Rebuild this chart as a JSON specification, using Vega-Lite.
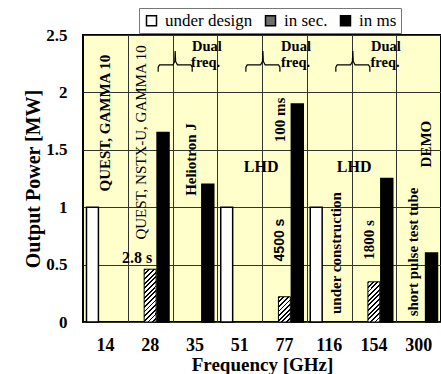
{
  "$schema": "https://vega.github.io/schema/vega-lite/v6.json",
  "width": 358,
  "height": 287,
  "autosize": {"type": "none"},
  "padding": {"left": 83, "top": 35, "right": 0, "bottom": 52},
  "background": "white",
  "config": {
    "view": {"fill": "#FFFFCC", "stroke": "black", "strokeWidth": 2},
    "font": "Liberation Serif",
    "axis": {
      "labelFont": "Liberation Serif", "labelFontWeight": "bold", "labelFontSize": 17, "labelColor": "black",
      "titleFont": "Liberation Serif", "titleFontWeight": "bold", "titleFontSize": 19, "titleColor": "black",
      "gridColor": "#333", "gridOpacity": 1, "gridWidth": 1, "ticks": false, "domain": false
    },
    "legend": {
      "labelFont": "Liberation Serif", "labelFontSize": 17, "labelColor": "black",
      "symbolStrokeColor": "black", "symbolStrokeWidth": 1.5, "symbolType": "square", "symbolSize": 100
    }
  },
  "datasets": {
    "bars": [
      {"freq": "14", "type": "under design", "power": 1.0},
      {"freq": "28", "type": "in sec.", "power": 0.46},
      {"freq": "28", "type": "in ms", "power": 1.65},
      {"freq": "35", "type": "in ms", "power": 1.2},
      {"freq": "51", "type": "under design", "power": 1.0},
      {"freq": "77", "type": "in sec.", "power": 0.22},
      {"freq": "77", "type": "in ms", "power": 1.9},
      {"freq": "116", "type": "under design", "power": 1.0},
      {"freq": "154", "type": "in sec.", "power": 0.35},
      {"freq": "154", "type": "in ms", "power": 1.25},
      {"freq": "300", "type": "in ms", "power": 0.6}
    ],
    "braces": [
      {"brace": 1, "i": 0, "x": 1.68, "y": 2.18}, {"brace": 1, "i": 1, "x": 1.68, "y": 2.22}, {"brace": 1, "i": 2, "x": 1.71, "y": 2.24},
      {"brace": 1, "i": 3, "x": 2.01, "y": 2.24}, {"brace": 1, "i": 4, "x": 2.05, "y": 2.27}, {"brace": 1, "i": 5, "x": 2.06, "y": 2.36},
      {"brace": 1, "i": 6, "x": 2.07, "y": 2.27}, {"brace": 1, "i": 7, "x": 2.11, "y": 2.24}, {"brace": 1, "i": 8, "x": 2.41, "y": 2.24},
      {"brace": 1, "i": 9, "x": 2.44, "y": 2.22}, {"brace": 1, "i": 10, "x": 2.44, "y": 2.18},
      {"brace": 2, "i": 0, "x": 3.64, "y": 2.18}, {"brace": 2, "i": 1, "x": 3.64, "y": 2.22}, {"brace": 2, "i": 2, "x": 3.67, "y": 2.24},
      {"brace": 2, "i": 3, "x": 3.97, "y": 2.24}, {"brace": 2, "i": 4, "x": 4.01, "y": 2.27}, {"brace": 2, "i": 5, "x": 4.02, "y": 2.36},
      {"brace": 2, "i": 6, "x": 4.03, "y": 2.27}, {"brace": 2, "i": 7, "x": 4.07, "y": 2.24}, {"brace": 2, "i": 8, "x": 4.37, "y": 2.24},
      {"brace": 2, "i": 9, "x": 4.40, "y": 2.22}, {"brace": 2, "i": 10, "x": 4.40, "y": 2.18},
      {"brace": 3, "i": 0, "x": 5.65, "y": 2.18}, {"brace": 3, "i": 1, "x": 5.65, "y": 2.22}, {"brace": 3, "i": 2, "x": 5.68, "y": 2.24},
      {"brace": 3, "i": 3, "x": 5.98, "y": 2.24}, {"brace": 3, "i": 4, "x": 6.02, "y": 2.27}, {"brace": 3, "i": 5, "x": 6.03, "y": 2.36},
      {"brace": 3, "i": 6, "x": 6.04, "y": 2.27}, {"brace": 3, "i": 7, "x": 6.08, "y": 2.24}, {"brace": 3, "i": 8, "x": 6.38, "y": 2.24},
      {"brace": 3, "i": 9, "x": 6.41, "y": 2.22}, {"brace": 3, "i": 10, "x": 6.41, "y": 2.18}
    ],
    "vbold": [
      {"label": "QUEST, GAMMA 10", "x": 0.49, "y": 1.733},
      {"label": "Heliotron J", "x": 2.41, "y": 1.415},
      {"label": "100 ms", "x": 4.40, "y": 1.76},
      {"label": "under construction", "x": 5.65, "y": 0.60},
      {"label": "1800 s", "x": 6.39, "y": 0.714},
      {"label": "short pulse test tube", "x": 7.37, "y": 0.61},
      {"label": "DEMO", "x": 7.66, "y": 1.55}
    ],
    "vregular": [
      {"label": "QUEST, NSTX-U, GAMMA 10", "x": 1.30, "y": 1.564}
    ],
    "vsans": [
      {"label": "4500 s", "x": 4.40, "y": 0.714}
    ],
    "hbold": [
      {"label": "LHD", "x": 3.98, "y": 1.35},
      {"label": "LHD", "x": 6.06, "y": 1.35},
      {"label": "2.8 s", "x": 1.21, "y": 0.557}
    ],
    "dual": [
      {"label": "Dual", "x": 2.77, "y": 2.395}, {"label": "freq.", "x": 2.74, "y": 2.256},
      {"label": "Dual", "x": 4.76, "y": 2.395}, {"label": "freq.", "x": 4.75, "y": 2.256},
      {"label": "Dual", "x": 6.77, "y": 2.395}, {"label": "freq.", "x": 6.75, "y": 2.256}
    ]
  },
  "layer": [
    {
      "data": {"name": "bars"},
      "layer": [
        {
          "transform": [{"filter": "datum.type !== 'in sec.'"}],
          "mark": {"type": "bar", "stroke": "black", "strokeWidth": 1.5},
          "encoding": {
            "x": {"field": "freq", "type": "nominal", "title": "Frequency [GHz]",
              "scale": {"domain": ["14", "28", "35", "51", "77", "116", "154", "300"], "paddingInner": 0, "paddingOuter": 0},
              "axis": {"orient": "bottom", "grid": false, "labelAngle": 0, "labelPadding": 14, "titlePadding": 1, "labelFontSize": 18}},
            "xOffset": {"field": "type", "type": "nominal",
              "scale": {"domain": ["under design", "in sec.", "in ms"], "paddingInner": 0.077, "paddingOuter": 0.27}},
            "y": {"field": "power", "type": "quantitative", "title": "Output Power [MW]",
              "scale": {"domain": [0, 2.5], "nice": false, "zero": true},
              "axis": {"values": [0, 0.5, 1, 1.5, 2, 2.5], "format": "~g", "grid": true, "labelPadding": 16, "titlePadding": 2, "titleFontSize": 20}},
            "fill": {"field": "type", "type": "nominal",
              "scale": {"domain": ["under design", "in sec.", "in ms"], "range": ["white", "#6e6e6e", "black"]},
              "legend": {
                "orient": "none", "legendX": 56, "legendY": -27, "columns": 3, "title": null,
                "symbolType": "square", "symbolSize": 100, "symbolStrokeColor": "black", "symbolStrokeWidth": 1.5,
                "labelFont": "Liberation Serif", "labelFontSize": 17, "labelFontWeight": "normal", "labelColor": "black",
                "labelOffset": 5, "columnPadding": 9, "padding": 4, "strokeColor": "#777777", "fillColor": "white"
              }}
          }
        },
        {
          "transform": [{"filter": "datum.type === 'in sec.' && datum.freq === '28'"}],
          "mark": {"type": "bar", "stroke": "black", "strokeWidth": 1,
            "fill": {"gradient": "linear", "x1": 0, "y1": 0, "x2": 0.266, "y2": 1.1705, "stops": [
              {"offset": 0, "color": "#000"}, {"offset": 0.0286, "color": "#000"}, {"offset": 0.0286, "color": "#fff"}, {"offset": 0.0714, "color": "#fff"},
              {"offset": 0.0714, "color": "#000"}, {"offset": 0.1, "color": "#000"}, {"offset": 0.1, "color": "#fff"}, {"offset": 0.1429, "color": "#fff"},
              {"offset": 0.1429, "color": "#000"}, {"offset": 0.1714, "color": "#000"}, {"offset": 0.1714, "color": "#fff"}, {"offset": 0.2143, "color": "#fff"},
              {"offset": 0.2143, "color": "#000"}, {"offset": 0.2429, "color": "#000"}, {"offset": 0.2429, "color": "#fff"}, {"offset": 0.2857, "color": "#fff"},
              {"offset": 0.2857, "color": "#000"}, {"offset": 0.3143, "color": "#000"}, {"offset": 0.3143, "color": "#fff"}, {"offset": 0.3571, "color": "#fff"},
              {"offset": 0.3571, "color": "#000"}, {"offset": 0.3857, "color": "#000"}, {"offset": 0.3857, "color": "#fff"}, {"offset": 0.4286, "color": "#fff"},
              {"offset": 0.4286, "color": "#000"}, {"offset": 0.4571, "color": "#000"}, {"offset": 0.4571, "color": "#fff"}, {"offset": 0.5, "color": "#fff"},
              {"offset": 0.5, "color": "#000"}, {"offset": 0.5286, "color": "#000"}, {"offset": 0.5286, "color": "#fff"}, {"offset": 0.5714, "color": "#fff"},
              {"offset": 0.5714, "color": "#000"}, {"offset": 0.6, "color": "#000"}, {"offset": 0.6, "color": "#fff"}, {"offset": 0.6429, "color": "#fff"},
              {"offset": 0.6429, "color": "#000"}, {"offset": 0.6714, "color": "#000"}, {"offset": 0.6714, "color": "#fff"}, {"offset": 0.7143, "color": "#fff"},
              {"offset": 0.7143, "color": "#000"}, {"offset": 0.7429, "color": "#000"}, {"offset": 0.7429, "color": "#fff"}, {"offset": 0.7857, "color": "#fff"},
              {"offset": 0.7857, "color": "#000"}, {"offset": 0.8143, "color": "#000"}, {"offset": 0.8143, "color": "#fff"}, {"offset": 0.8571, "color": "#fff"},
              {"offset": 0.8571, "color": "#000"}, {"offset": 0.8857, "color": "#000"}, {"offset": 0.8857, "color": "#fff"}, {"offset": 0.9286, "color": "#fff"},
              {"offset": 0.9286, "color": "#000"}, {"offset": 0.9571, "color": "#000"}, {"offset": 0.9571, "color": "#fff"}, {"offset": 1, "color": "#fff"}
            ]}},
          "encoding": {
            "x": {"field": "freq", "type": "nominal", "title": "Frequency [GHz]"},
            "xOffset": {"field": "type", "type": "nominal"},
            "y": {"field": "power", "type": "quantitative", "title": "Output Power [MW]"}
          }
        },
        {
          "transform": [{"filter": "datum.type === 'in sec.' && datum.freq === '77'"}],
          "mark": {"type": "bar", "stroke": "black", "strokeWidth": 1,
            "fill": {"gradient": "linear", "x1": 0, "y1": 0, "x2": 0.995, "y2": 2.097, "stops": [
              {"offset": 0, "color": "#000"}, {"offset": 0.0286, "color": "#000"}, {"offset": 0.0286, "color": "#fff"}, {"offset": 0.0714, "color": "#fff"},
              {"offset": 0.0714, "color": "#000"}, {"offset": 0.1, "color": "#000"}, {"offset": 0.1, "color": "#fff"}, {"offset": 0.1429, "color": "#fff"},
              {"offset": 0.1429, "color": "#000"}, {"offset": 0.1714, "color": "#000"}, {"offset": 0.1714, "color": "#fff"}, {"offset": 0.2143, "color": "#fff"},
              {"offset": 0.2143, "color": "#000"}, {"offset": 0.2429, "color": "#000"}, {"offset": 0.2429, "color": "#fff"}, {"offset": 0.2857, "color": "#fff"},
              {"offset": 0.2857, "color": "#000"}, {"offset": 0.3143, "color": "#000"}, {"offset": 0.3143, "color": "#fff"}, {"offset": 0.3571, "color": "#fff"},
              {"offset": 0.3571, "color": "#000"}, {"offset": 0.3857, "color": "#000"}, {"offset": 0.3857, "color": "#fff"}, {"offset": 0.4286, "color": "#fff"},
              {"offset": 0.4286, "color": "#000"}, {"offset": 0.4571, "color": "#000"}, {"offset": 0.4571, "color": "#fff"}, {"offset": 0.5, "color": "#fff"},
              {"offset": 0.5, "color": "#000"}, {"offset": 0.5286, "color": "#000"}, {"offset": 0.5286, "color": "#fff"}, {"offset": 0.5714, "color": "#fff"},
              {"offset": 0.5714, "color": "#000"}, {"offset": 0.6, "color": "#000"}, {"offset": 0.6, "color": "#fff"}, {"offset": 1, "color": "#fff"}
            ]}},
          "encoding": {
            "x": {"field": "freq", "type": "nominal", "title": "Frequency [GHz]"},
            "xOffset": {"field": "type", "type": "nominal"},
            "y": {"field": "power", "type": "quantitative", "title": "Output Power [MW]"}
          }
        },
        {
          "transform": [{"filter": "datum.type === 'in sec.' && datum.freq === '154'"}],
          "mark": {"type": "bar", "stroke": "black", "strokeWidth": 1,
            "fill": {"gradient": "linear", "x1": 0, "y1": 0, "x2": 0.4432, "y2": 1.4847, "stops": [
              {"offset": 0, "color": "#000"}, {"offset": 0.0286, "color": "#000"}, {"offset": 0.0286, "color": "#fff"}, {"offset": 0.0714, "color": "#fff"},
              {"offset": 0.0714, "color": "#000"}, {"offset": 0.1, "color": "#000"}, {"offset": 0.1, "color": "#fff"}, {"offset": 0.1429, "color": "#fff"},
              {"offset": 0.1429, "color": "#000"}, {"offset": 0.1714, "color": "#000"}, {"offset": 0.1714, "color": "#fff"}, {"offset": 0.2143, "color": "#fff"},
              {"offset": 0.2143, "color": "#000"}, {"offset": 0.2429, "color": "#000"}, {"offset": 0.2429, "color": "#fff"}, {"offset": 0.2857, "color": "#fff"},
              {"offset": 0.2857, "color": "#000"}, {"offset": 0.3143, "color": "#000"}, {"offset": 0.3143, "color": "#fff"}, {"offset": 0.3571, "color": "#fff"},
              {"offset": 0.3571, "color": "#000"}, {"offset": 0.3857, "color": "#000"}, {"offset": 0.3857, "color": "#fff"}, {"offset": 0.4286, "color": "#fff"},
              {"offset": 0.4286, "color": "#000"}, {"offset": 0.4571, "color": "#000"}, {"offset": 0.4571, "color": "#fff"}, {"offset": 0.5, "color": "#fff"},
              {"offset": 0.5, "color": "#000"}, {"offset": 0.5286, "color": "#000"}, {"offset": 0.5286, "color": "#fff"}, {"offset": 0.5714, "color": "#fff"},
              {"offset": 0.5714, "color": "#000"}, {"offset": 0.6, "color": "#000"}, {"offset": 0.6, "color": "#fff"}, {"offset": 0.6429, "color": "#fff"},
              {"offset": 0.6429, "color": "#000"}, {"offset": 0.6714, "color": "#000"}, {"offset": 0.6714, "color": "#fff"}, {"offset": 0.7143, "color": "#fff"},
              {"offset": 0.7143, "color": "#000"}, {"offset": 0.7429, "color": "#000"}, {"offset": 0.7429, "color": "#fff"}, {"offset": 0.7857, "color": "#fff"},
              {"offset": 0.7857, "color": "#000"}, {"offset": 0.8143, "color": "#000"}, {"offset": 0.8143, "color": "#fff"}, {"offset": 1, "color": "#fff"}
            ]}},
          "encoding": {
            "x": {"field": "freq", "type": "nominal", "title": "Frequency [GHz]"},
            "xOffset": {"field": "type", "type": "nominal"},
            "y": {"field": "power", "type": "quantitative", "title": "Output Power [MW]"}
          }
        }
      ]
    },
    {
      "layer": [
        {
          "data": {"name": "braces"},
          "mark": {"type": "line", "color": "black", "strokeWidth": 1.2},
          "encoding": {
            "x": {"field": "x", "type": "quantitative", "scale": {"domain": [0, 8], "nice": false, "zero": false},
              "axis": {"orient": "top", "values": [1, 2, 3, 4, 5, 6, 7], "grid": true, "labels": false, "ticks": false, "domain": false, "title": null}},
            "y": {"field": "y", "type": "quantitative", "scale": {"domain": [0, 2.5], "nice": false}, "axis": null},
            "detail": {"field": "brace", "type": "nominal"},
            "order": {"field": "i", "type": "quantitative"}
          }
        },
        {
          "data": {"name": "vbold"},
          "mark": {"type": "text", "angle": 270, "align": "center", "baseline": "middle", "font": "Liberation Serif", "fontWeight": "bold", "fontSize": 15, "color": "black"},
          "encoding": {
            "x": {"field": "x", "type": "quantitative", "axis": null},
            "y": {"field": "y", "type": "quantitative", "axis": null},
            "text": {"field": "label"}
          }
        },
        {
          "data": {"name": "vregular"},
          "mark": {"type": "text", "angle": 270, "align": "center", "baseline": "middle", "font": "Liberation Serif", "fontWeight": "normal", "fontSize": 15, "color": "black"},
          "encoding": {
            "x": {"field": "x", "type": "quantitative", "axis": null},
            "y": {"field": "y", "type": "quantitative", "axis": null},
            "text": {"field": "label"}
          }
        },
        {
          "data": {"name": "vsans"},
          "mark": {"type": "text", "angle": 270, "align": "center", "baseline": "middle", "font": "Liberation Sans", "fontWeight": "bold", "fontSize": 14, "color": "black"},
          "encoding": {
            "x": {"field": "x", "type": "quantitative", "axis": null},
            "y": {"field": "y", "type": "quantitative", "axis": null},
            "text": {"field": "label"}
          }
        },
        {
          "data": {"name": "hbold"},
          "mark": {"type": "text", "align": "center", "baseline": "middle", "font": "Liberation Serif", "fontWeight": "bold", "fontSize": 16, "color": "black"},
          "encoding": {
            "x": {"field": "x", "type": "quantitative", "axis": null},
            "y": {"field": "y", "type": "quantitative", "axis": null},
            "text": {"field": "label"}
          }
        },
        {
          "data": {"name": "dual"},
          "mark": {"type": "text", "align": "center", "baseline": "middle", "font": "Liberation Serif", "fontWeight": "bold", "fontSize": 14.5, "color": "black"},
          "encoding": {
            "x": {"field": "x", "type": "quantitative", "axis": null},
            "y": {"field": "y", "type": "quantitative", "axis": null},
            "text": {"field": "label"}
          }
        }
      ],
      "resolve": {"axis": {"x": "independent", "y": "independent"}}
    }
  ],
  "resolve": {"scale": {"x": "independent", "y": "independent"}, "axis": {"x": "independent", "y": "independent"}}
}
